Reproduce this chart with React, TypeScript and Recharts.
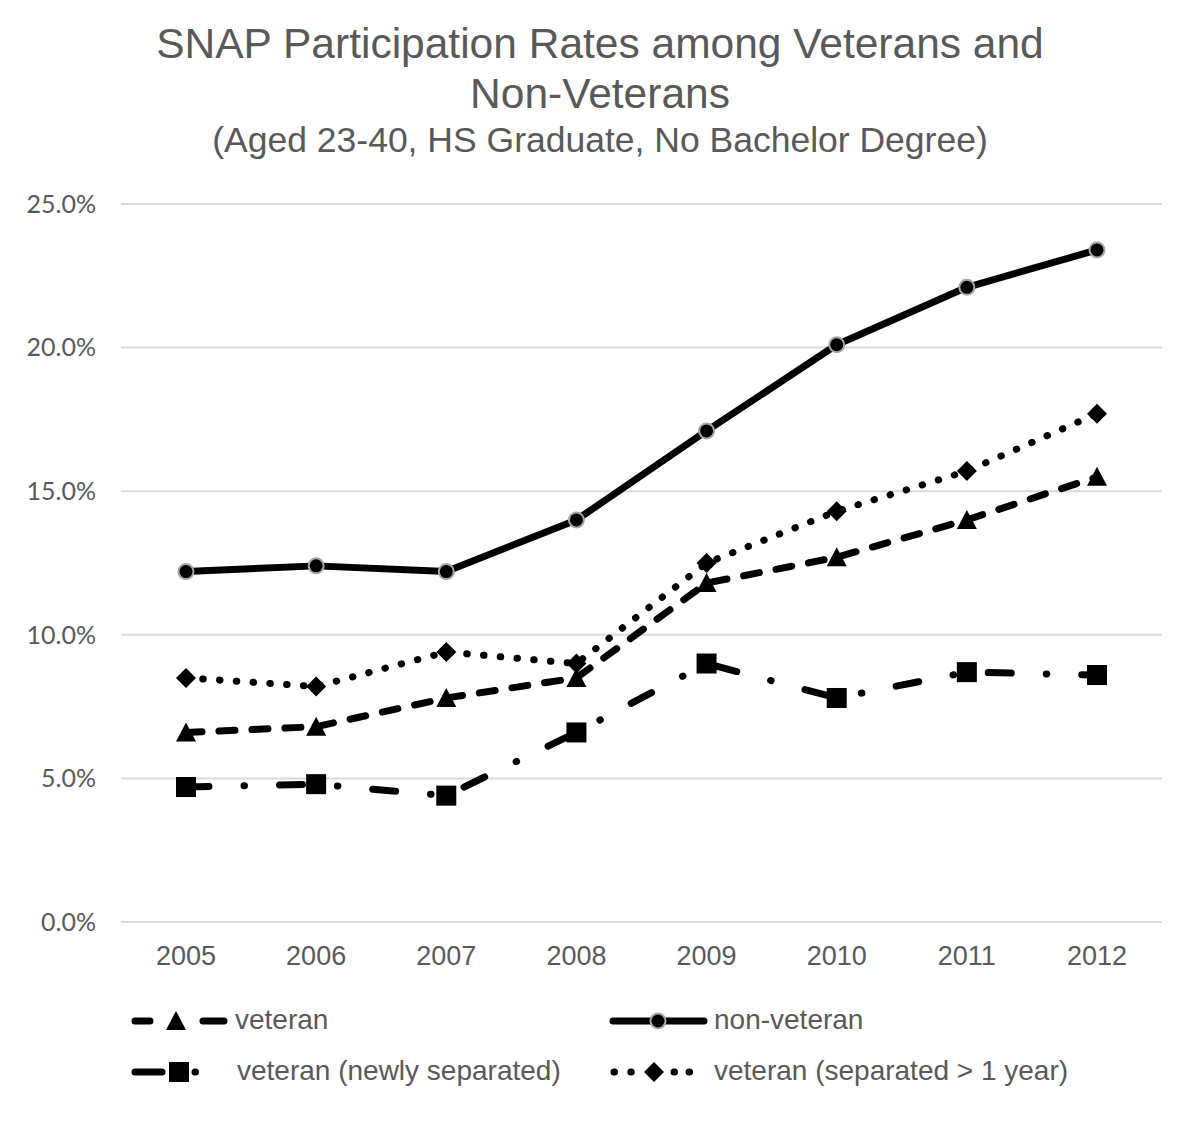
import React from 'react';
import { LineChart, Line, XAxis, YAxis, CartesianGrid } from 'recharts';

// SNAP participation rates (%)
const years = ['2005', '2006', '2007', '2008', '2009', '2010', '2011', '2012'];
const veteran = [6.6, 6.8, 7.8, 8.5, 11.8, 12.7, 14.0, 15.5];
const nonVeteran = [12.2, 12.4, 12.2, 14.0, 17.1, 20.1, 22.1, 23.4];
const newlySeparated = [4.7, 4.8, 4.4, 6.6, 9.0, 7.8, 8.7, 8.6];
const separatedOverYear = [8.5, 8.2, 9.4, 9.0, 12.5, 14.3, 15.7, 17.7];
const yTicks = [0, 5, 10, 15, 20, 25];

const data = years.map((year, i) => ({
  year,
  veteran: veteran[i],
  nonVeteran: nonVeteran[i],
  newlySeparated: newlySeparated[i],
  separatedOverYear: separatedOverYear[i],
}));

const TEXT = '#595959';
const GRID = '#d9d9d9';
const ARIAL = '"Liberation Sans", Arial, sans-serif';
const LINE_W = 7;

type Shape = 'circle' | 'triangle' | 'diamond' | 'square';

const Marker = ({ shape, cx, cy }: { shape: Shape; cx: number; cy: number }) => {
  if (cx == null || cy == null) return null;
  switch (shape) {
    case 'circle':
      return <circle cx={cx} cy={cy} r={7.5} fill="#000" stroke="#a6a6a6" strokeWidth={2} />;
    case 'triangle':
      return (
        <polygon
          points={`${cx},${cy - 10} ${cx + 10},${cy + 9} ${cx - 10},${cy + 9}`}
          fill="#000"
        />
      );
    case 'diamond':
      return (
        <polygon
          points={`${cx},${cy - 10} ${cx + 10},${cy} ${cx},${cy + 10} ${cx - 10},${cy}`}
          fill="#000"
        />
      );
    case 'square':
      return <rect x={cx - 10} y={cy - 10} width={20} height={20} fill="#000" />;
    default:
      return null;
  }
};

const series = [
  { key: 'veteran', name: 'veteran', dash: '16 17', shape: 'triangle' as Shape },
  { key: 'nonVeteran', name: 'non-veteran', dash: undefined, shape: 'circle' as Shape },
  { key: 'newlySeparated', name: 'veteran (newly separated)', dash: '23 35 0.5 35', shape: 'square' as Shape },
  { key: 'separatedOverYear', name: 'veteran (separated > 1 year)', dash: '0.5 16.3', shape: 'diamond' as Shape },
];

const makeDot = (key: string, shape: Shape) => (props: any) =>
  <Marker key={`${key}-${props.index}`} shape={shape} cx={props.cx} cy={props.cy} />;

// legend drawn as a small svg under the plot
const ChartLegend = () => {
  const line = { stroke: '#000', strokeWidth: LINE_W, strokeLinecap: 'round' as const };
  const label = { fill: TEXT, fontSize: 28, fontFamily: ARIAL };
  return (
    <svg
      width={1200}
      height={110}
      style={{ position: 'absolute', left: 0, top: 990 }}
    >
      {/* veteran */}
      <line x1={135} y1={31} x2={150} y2={31} {...line} />
      <Marker shape="triangle" cx={176} cy={31} />
      <line x1={203} y1={31} x2={224} y2={31} {...line} />
      <text x={235} y={39} {...label}>veteran</text>

      {/* non-veteran */}
      <line x1={613} y1={31} x2={704} y2={31} {...line} />
      <Marker shape="circle" cx={658} cy={31} />
      <text x={714} y={39} {...label}>non-veteran</text>

      {/* newly separated */}
      <line x1={135} y1={82} x2={162} y2={82} {...line} />
      <Marker shape="square" cx={179} cy={82} />
      <line x1={195} y1={82} x2={195.5} y2={82} {...line} />
      <text x={237} y={90} {...label}>veteran (newly separated)</text>

      {/* separated > 1 year */}
      <line x1={614} y1={82} x2={632} y2={82} {...line} strokeDasharray="0.5 16.3" />
      <Marker shape="diamond" cx={654} cy={82} />
      <line x1={674} y1={82} x2={704} y2={82} {...line} strokeDasharray="0.5 14.5" />
      <text x={714} y={90} {...label}>veteran (separated &gt; 1 year)</text>
    </svg>
  );
};

const App = () => {
  return (
    <div
      style={{
        position: 'absolute',
        left: 0,
        top: 0,
        width: 1200,
        height: 1124,
        background: '#fff',
        fontFamily: ARIAL,
      }}
    >
      <div
        style={{
          position: 'absolute',
          left: 0,
          top: 19,
          width: 1200,
          textAlign: 'center',
          color: TEXT,
          fontSize: 42.5,
          lineHeight: '50px',
        }}
      >
        SNAP Participation Rates among Veterans and
        <br />
        Non-Veterans
      </div>
      <div
        style={{
          position: 'absolute',
          left: 0,
          top: 123,
          width: 1200,
          textAlign: 'center',
          color: TEXT,
          fontSize: 35.5,
          lineHeight: '35px',
        }}
      >
        (Aged 23-40, HS Graduate, No Bachelor Degree)
      </div>

      <div style={{ position: 'absolute', left: 0, top: 0 }}>
        <LineChart
          width={1200}
          height={1124}
          data={data}
          margin={{ top: 204, right: 38, bottom: 162, left: 0 }}
        >
          <CartesianGrid vertical={false} stroke={GRID} strokeWidth={2} />
          <XAxis
            dataKey="year"
            height={40}
            padding={{ left: 65, right: 65 }}
            axisLine={false}
            tickLine={false}
            tickSize={0}
            tickMargin={24}
            tick={{ fill: TEXT, fontSize: 27, fontFamily: ARIAL }}
          />
          <YAxis
            width={121}
            domain={[0, 25]}
            ticks={yTicks}
            axisLine={false}
            tickLine={false}
            tickSize={0}
            tickMargin={25}
            tickFormatter={(v: number) => `${v.toFixed(1)}%`}
            tick={{ fill: TEXT, fontSize: 25, fontFamily: 'Lato, "Open Sans", sans-serif' }}
          />
          {series.map((s) => (
            <Line
              key={s.key}
              type="linear"
              dataKey={s.key}
              name={s.name}
              stroke="#000"
              strokeWidth={LINE_W}
              strokeLinecap="round"
              strokeLinejoin="round"
              strokeDasharray={s.dash}
              dot={makeDot(s.key, s.shape)}
              activeDot={false}
              isAnimationActive={false}
            />
          ))}
        </LineChart>
      </div>

      <ChartLegend />
    </div>
  );
};

export default App;
